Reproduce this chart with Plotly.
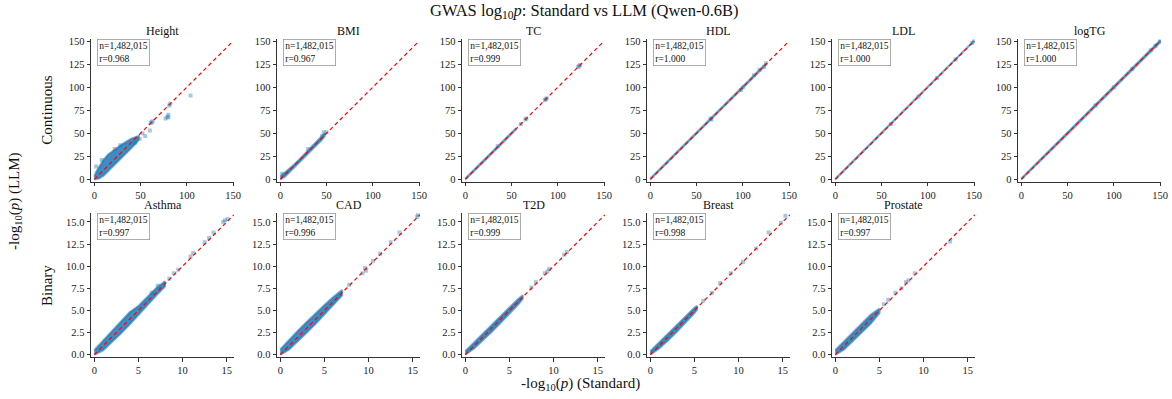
import plotly.graph_objects as go

# ---------------- data ----------------
panel_names = ["Height", "BMI", "TC", "HDL", "LDL", "logTG",
               "Asthma", "CAD", "T2D", "Breast", "Prostate"]
panel_kind = ["cont"] * 6 + ["bin"] * 5
n_snps = ["1,482,015"] * 11
r_values = ["0.968", "0.967", "0.999", "1.000", "1.000", "1.000",
            "0.997", "0.996", "0.999", "0.998", "0.997"]

# dense-band envelope (x, lower y, upper y) per panel
band_x = {
    "Height": [0, 2, 5, 10, 15, 20, 25, 30, 35, 40, 45, 48],
    "BMI": [0, 5, 10, 15, 20, 25, 30, 35, 40, 45, 48],
    "TC": [0, 10, 20, 30, 40, 50, 55],
    "HDL": [0, 20, 40, 60, 65, 80, 100, 110, 120, 125],
    "LDL": [0, 25, 50, 75, 100, 125, 150],
    "logTG": [0, 25, 50, 75, 100, 125, 150],
    "Asthma": [0, 1, 2, 3, 4, 5, 6, 7, 8],
    "CAD": [0, 1, 2, 3, 4, 5, 6, 7],
    "T2D": [0, 1, 2, 3, 4, 5, 6, 6.5],
    "Breast": [0, 1, 2, 3, 4, 5, 5.3],
    "Prostate": [0, 1, 2, 3, 4, 5],
}
band_lo = {
    "Height": [0, 0, 1, 4, 9, 14, 19, 25, 29, 34, 39, 43],
    "BMI": [0, 3, 8, 13, 18, 23, 28, 33, 38, 43, 47],
    "TC": [0, 9.3, 19.3, 29.3, 39.3, 49.3, 54.5],
    "HDL": [0, 19.3, 39.3, 59.3, 64.5, 79.5, 99.3, 109.3, 119.3, 124.5],
    "LDL": [0, 24.5, 49.5, 74.5, 99.5, 124.5, 149.5],
    "logTG": [0, 24.3, 49.3, 74.3, 99.3, 124.3, 148.8],
    "Asthma": [0, 0.5, 1.4, 2.4, 3.4, 4.4, 5.6, 6.7, 7.7],
    "CAD": [0, 0.6, 1.5, 2.5, 3.5, 4.5, 5.6, 6.7],
    "T2D": [0, 0.7, 1.6, 2.6, 3.6, 4.6, 5.7, 6.3],
    "Breast": [0, 0.7, 1.6, 2.6, 3.6, 4.7, 5.1],
    "Prostate": [0, 0.6, 1.5, 2.5, 3.5, 4.7],
}
band_hi = {
    "Height": [3, 8, 13, 21, 27, 31, 34, 38, 41, 44, 46, 47],
    "BMI": [3, 7, 11, 16, 21, 26, 32, 37, 42, 47, 50],
    "TC": [0.8, 10.7, 20.7, 30.7, 40.7, 50.7, 55.5],
    "HDL": [0.8, 20.7, 40.7, 60.7, 65.5, 80.5, 100.7, 110.7, 120.7, 125.5],
    "LDL": [0.5, 25.5, 50.5, 75.5, 100.5, 125.5, 150.5],
    "logTG": [0.8, 25.7, 50.7, 75.7, 100.7, 125.7, 150.8],
    "Asthma": [0.5, 1.6, 2.7, 3.7, 4.8, 5.5, 6.5, 7.5, 8.3],
    "CAD": [0.6, 1.7, 2.7, 3.7, 4.7, 5.6, 6.5, 7.3],
    "T2D": [0.4, 1.4, 2.4, 3.4, 4.4, 5.4, 6.3, 6.7],
    "Breast": [0.4, 1.4, 2.4, 3.4, 4.4, 5.3, 5.5],
    "Prostate": [0.5, 1.5, 2.5, 3.5, 4.5, 5.2],
}
# scattered points (Standard, LLM) per panel
pts_x = {
    "Height": [2, 8, 22, 28, 44, 49, 52, 55, 60, 61, 62, 63, 77, 79, 80, 81, 82, 80, 104],
    "BMI": [50, 47, 2, 30, 45],
    "TC": [35, 60, 65, 66, 86, 87, 88, 122, 123, 124],
    "HDL": [65, 66, 98, 100, 112, 118, 123, 125],
    "LDL": [60, 90, 110, 130, 148, 150],
    "logTG": [80, 100, 120, 140, 145, 150],
    "Asthma": [6.5, 7.2, 8.5, 9.0, 9.5, 10.9, 11.2, 12.5, 13.0, 13.5, 14.6, 14.8, 15.1],
    "CAD": [7.8, 9.3, 9.6, 9.7, 10.5, 11.3, 12.5, 13.5, 15.5, 15.6],
    "T2D": [7.5, 8.0, 9.0, 9.3, 9.5, 11.2, 11.5],
    "Breast": [6.0, 7.0, 7.9, 9.1, 10.5, 12.0, 13.4, 14.8, 15.3],
    "Prostate": [5.5, 6.0, 6.8, 7.5, 8.0, 8.3, 9.0, 13.0],
}
pts_y = {
    "Height": [14, 21, 33, 37, 40, 44, 50, 47, 53, 61, 62, 63, 66, 68, 70, 80, 82, 67, 91],
    "BMI": [51, 51, 6, 33, 47],
    "TC": [36, 60, 65, 66, 86, 87, 88, 122, 123, 124],
    "HDL": [66, 65, 97, 100, 113, 119, 122, 126],
    "LDL": [60, 90, 110, 130, 148, 150],
    "logTG": [80, 100, 120, 140, 145, 150],
    "Asthma": [7.0, 7.8, 8.6, 9.2, 9.6, 11.1, 11.5, 12.7, 13.2, 13.8, 15.0, 15.2, 15.3],
    "CAD": [7.9, 9.2, 9.8, 9.5, 10.6, 11.4, 12.7, 13.8, 15.6, 15.8],
    "T2D": [7.6, 8.2, 9.2, 9.4, 9.7, 11.3, 11.6],
    "Breast": [6.1, 7.0, 8.1, 9.2, 10.5, 12.0, 13.8, 14.9, 15.7],
    "Prostate": [5.7, 6.2, 7.0, 7.5, 8.2, 8.4, 9.2, 12.8],
}
ref_lim = {"cont": 150, "bin": 15.8}
axis_range_x = {"cont": [-3.6, 151], "bin": [-0.37, 15.82]}
axis_range_y = {"cont": [-2.6, 152], "bin": [-0.26, 15.98]}
xticks = {"cont": [0, 50, 100, 150], "bin": [0, 5, 10, 15]}
yticks = {"cont": [0, 25, 50, 75, 100, 125, 150],
          "bin": [0, 2.5, 5, 7.5, 10, 12.5, 15]}
yfmt = {"cont": "d", "bin": ".1f"}

# ---------------- layout geometry ----------------
W, H = 1172, 399
col_left = [91, 277, 462, 647, 832, 1018]
pw = 143
row_top = [39.3, 213.3]
row_bot = [181.7, 357.0]
FONT = "Liberation Serif"
BLUE = "#1f77b4"

fig = go.Figure()
annotations = []
layout_axes = {}

for i, name in enumerate(panel_names):
    kind = panel_kind[i]
    row = 0 if i < 6 else 1
    col = i if i < 6 else i - 6
    k = i + 1
    xa = "x" if k == 1 else f"x{k}"
    ya = "y" if k == 1 else f"y{k}"
    xkey = "xaxis" if k == 1 else f"xaxis{k}"
    ykey = "yaxis" if k == 1 else f"yaxis{k}"

    bx = band_x[name]
    poly_x = bx + bx[::-1]
    poly_y = band_hi[name] + band_lo[name][::-1]
    fig.add_trace(go.Scatter(x=poly_x, y=poly_y, mode="lines", fill="toself",
                             fillcolor="rgba(31,119,180,0.85)",
                             line=dict(color="rgba(31,119,180,0.6)", width=2.2),
                             xaxis=xa, yaxis=ya, showlegend=False, hoverinfo="skip"))
    fig.add_trace(go.Scatter(x=pts_x[name], y=pts_y[name], mode="markers",
                             marker=dict(color=BLUE, size=4, opacity=0.4,
                                         symbol="square", line=dict(width=0)),
                             xaxis=xa, yaxis=ya, showlegend=False))
    lim = ref_lim[kind]
    fig.add_trace(go.Scatter(x=[0, lim], y=[0, lim], mode="lines",
                             line=dict(color="red", width=1.2, dash="4px,3px"),
                             xaxis=xa, yaxis=ya, showlegend=False, hoverinfo="skip"))

    x0 = col_left[col] / W
    x1 = (col_left[col] + pw) / W
    y0 = 1 - row_bot[row] / H
    y1 = 1 - row_top[row] / H
    common = dict(showgrid=False, zeroline=False, showline=True, linecolor="#333",
                  linewidth=1, ticks="outside", ticklen=3.5, tickwidth=1,
                  tickcolor="#333", tickfont=dict(family=FONT, size=10.5, color="#222"),
                  mirror=False, automargin=False)
    layout_axes[xkey] = dict(domain=[x0, x1], range=axis_range_x[kind],
                             tickvals=xticks[kind], anchor=ya, **common)
    layout_axes[ykey] = dict(domain=[y0, y1], range=axis_range_y[kind],
                             tickvals=yticks[kind], tickformat=yfmt[kind],
                             anchor=xa, **common)

    annotations.append(dict(text=name, xref=f"{xa} domain", yref=f"{ya} domain",
                            x=0.5, y=1, yanchor="bottom", xanchor="center",
                            showarrow=False, yshift=-1,
                            font=dict(family=FONT, size=12, color="#111")))
    annotations.append(dict(text=f"n={n_snps[i]}<br>r={r_values[i]}",
                            xref=f"{xa} domain", yref=f"{ya} domain",
                            x=0.04, y=1.0, xanchor="left", yanchor="top",
                            showarrow=False, align="left",
                            bgcolor="white", bordercolor="#999", borderwidth=0.8,
                            borderpad=1.5,
                            font=dict(family=FONT, size=9.5, color="#111")))

annotations += [
    dict(text="GWAS log<sub>10</sub><i>p</i>: Standard vs LLM (Qwen-0.6B)",
         xref="paper", yref="paper", x=584 / W, y=1 - 11 / H,
         xanchor="center", yanchor="middle", showarrow=False,
         font=dict(family=FONT, size=16.5, color="#111")),
    dict(text="Continuous", xref="paper", yref="paper", x=47 / W, y=1 - 110.7 / H,
         textangle=-90, xanchor="center", yanchor="middle", showarrow=False,
         font=dict(family=FONT, size=15, color="#111")),
    dict(text="Binary", xref="paper", yref="paper", x=47 / W, y=1 - 286 / H,
         textangle=-90, xanchor="center", yanchor="middle", showarrow=False,
         font=dict(family=FONT, size=15, color="#111")),
    dict(text="-log<sub>10</sub>(<i>p</i>) (LLM)", xref="paper", yref="paper",
         x=15 / W, y=1 - 201 / H, textangle=-90, xanchor="center", yanchor="middle",
         showarrow=False, font=dict(family=FONT, size=15, color="#111")),
    dict(text="-log<sub>10</sub>(<i>p</i>) (Standard)", xref="paper", yref="paper",
         x=580 / W, y=1 - 384 / H, xanchor="center", yanchor="middle",
         showarrow=False, font=dict(family=FONT, size=15, color="#111")),
]

fig.update_layout(width=W, height=H, margin=dict(l=0, r=0, t=0, b=0, autoexpand=False),
                  paper_bgcolor="white", plot_bgcolor="white",
                  annotations=annotations, showlegend=False, **layout_axes)

fig.write_html("out.html", config={"displayModeBar": False},
               post_script="document.body.style.margin='0';document.body.style.overflow='hidden';")
